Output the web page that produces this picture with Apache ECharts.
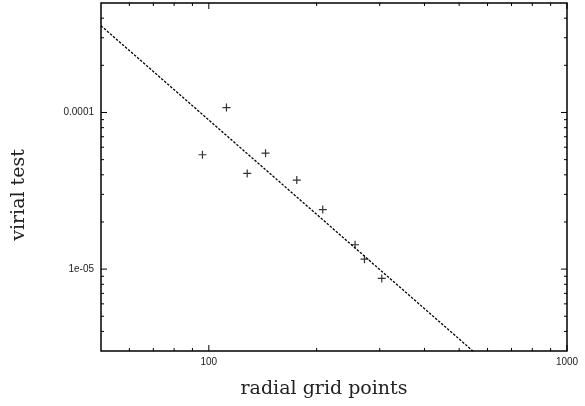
<!DOCTYPE html>
<html>
<head>
<meta charset="utf-8">
<script src="https://cdn.jsdelivr.net/npm/echarts@6/dist/echarts.min.js"></script>
<style>
  html, body { margin: 0; padding: 0; background: #ffffff; }
  #chart { width: 585px; height: 406px; }
</style>
</head>
<body>
<div id="chart"></div>
<script>
// Virial test against number of radial grid points (log-log)
const gridPoints = [96, 112, 128, 144, 176, 208, 256, 272, 304];
const virialTest = [5.37e-5, 1.074e-4, 4.08e-5, 5.50e-5, 3.70e-5, 2.40e-5, 1.43e-5, 1.157e-5, 8.72e-6];

// Power-law fit, drawn between its two end points
const fitX = [50, 546];
const fitY = [3.58e-4, 3.0e-6];

// Axis ranges
const xRange = [50, 1000];
const yRange = [3e-6, 5e-4];

// Tick positions and tick labels
const xMajorTicks = [100, 1000];
const xMinorTicks = [60, 70, 80, 90, 200, 300, 400, 500, 600, 700, 800, 900];
const yMajorTicks = [1e-5, 1e-4];
const yMinorTicks = [4e-6, 5e-6, 6e-6, 7e-6, 8e-6, 9e-6,
                     2e-5, 3e-5, 4e-5, 5e-5, 6e-5, 7e-5, 8e-5, 9e-5,
                     2e-4, 3e-4, 4e-4];
const xTickValues = [100, 1000];
const xTickLabels = ['100', '1000'];
const yTickValues = [1e-5, 1e-4];
const yTickLabels = ['1e-05', '0.0001'];

const xTitle = 'radial grid points';
const yTitle = 'virial test';

const MAJOR_LEN = 6;
const MINOR_LEN = 3;

function labelFor(values, labels) {
  return function (v) {
    for (let i = 0; i < values.length; i++) {
      if (Math.abs(v / values[i] - 1) < 1e-6) return labels[i];
    }
    return '';
  };
}

const xTickData = xMajorTicks.map(v => [v, yRange[0], MAJOR_LEN])
  .concat(xMinorTicks.map(v => [v, yRange[0], MINOR_LEN]));
const yTickData = yMajorTicks.map(v => [xRange[0], v, MAJOR_LEN])
  .concat(yMinorTicks.map(v => [xRange[0], v, MINOR_LEN]));

const tickStyle = { stroke: '#000000', lineWidth: 1 };

const chart = echarts.init(document.getElementById('chart'), null, { renderer: 'canvas' });

chart.setOption({
  animation: false,
  backgroundColor: '#ffffff',
  grid: {
    left: 101, right: 18, top: 3, bottom: 55,
    show: true, borderColor: '#000000', borderWidth: 1.5,
    backgroundColor: 'transparent'
  },
  xAxis: {
    type: 'log', logBase: 10,
    min: xRange[0], max: xRange[1],
    axisLine: { show: false },
    axisTick: { show: false },
    splitLine: { show: false },
    minorTick: { show: false },
    axisLabel: {
      show: true, margin: 6, fontSize: 10,
      fontFamily: 'Liberation Sans', color: '#222222',
      showMinLabel: true, showMaxLabel: true, hideOverlap: false,
      formatter: labelFor(xTickValues, xTickLabels)
    }
  },
  yAxis: {
    type: 'log', logBase: 10,
    min: yRange[0], max: yRange[1],
    axisLine: { show: false },
    axisTick: { show: false },
    splitLine: { show: false },
    minorTick: { show: false },
    axisLabel: {
      show: true, margin: 7, fontSize: 10,
      fontFamily: 'Liberation Sans', color: '#222222',
      hideOverlap: false,
      formatter: labelFor(yTickValues, yTickLabels)
    }
  },
  graphic: [
    {
      type: 'text', x: 324, y: 389,
      style: {
        text: xTitle, fontFamily: 'DejaVu Serif', fontSize: 19,
        fill: '#222222', align: 'center', verticalAlign: 'middle'
      }
    },
    {
      type: 'text', x: 19, y: 195, rotation: Math.PI / 2,
      style: {
        text: yTitle, fontFamily: 'DejaVu Serif', fontSize: 19,
        fill: '#222222', align: 'center', verticalAlign: 'middle'
      }
    }
  ],
  series: [
    {
      // ticks along bottom and top edges
      type: 'custom', silent: true, clip: false, z: 1,
      data: xTickData,
      encode: { x: 0, y: 1 },
      renderItem: function (params, api) {
        const v = api.value(0), len = api.value(2);
        const b = api.coord([v, yRange[0]]);
        const t = api.coord([v, yRange[1]]);
        return {
          type: 'group',
          children: [
            { type: 'line', shape: { x1: b[0], y1: b[1], x2: b[0], y2: b[1] - len }, style: tickStyle },
            { type: 'line', shape: { x1: t[0], y1: t[1], x2: t[0], y2: t[1] + len }, style: tickStyle }
          ]
        };
      }
    },
    {
      // ticks along left and right edges
      type: 'custom', silent: true, clip: false, z: 1,
      data: yTickData,
      encode: { x: 0, y: 1 },
      renderItem: function (params, api) {
        const v = api.value(1), len = api.value(2);
        const l = api.coord([xRange[0], v]);
        const r = api.coord([xRange[1], v]);
        return {
          type: 'group',
          children: [
            { type: 'line', shape: { x1: l[0], y1: l[1], x2: l[0] + len, y2: l[1] }, style: tickStyle },
            { type: 'line', shape: { x1: r[0], y1: r[1], x2: r[0] - len, y2: r[1] }, style: tickStyle }
          ]
        };
      }
    },
    {
      type: 'scatter', z: 3,
      symbol: 'path://M3.4,0H4.6V3.4H8V4.6H4.6V8H3.4V4.6H0V3.4H3.4Z',
      symbolSize: 8,
      itemStyle: { color: '#000000' },
      data: gridPoints.map((x, i) => [x, virialTest[i]])
    },
    {
      type: 'line', z: 2,
      showSymbol: false, symbol: 'none',
      lineStyle: { color: '#000000', width: 1.3, type: [2.5, 1.5] },
      data: fitX.map((x, i) => [x, fitY[i]])
    }
  ]
});
</script>
</body>
</html>
